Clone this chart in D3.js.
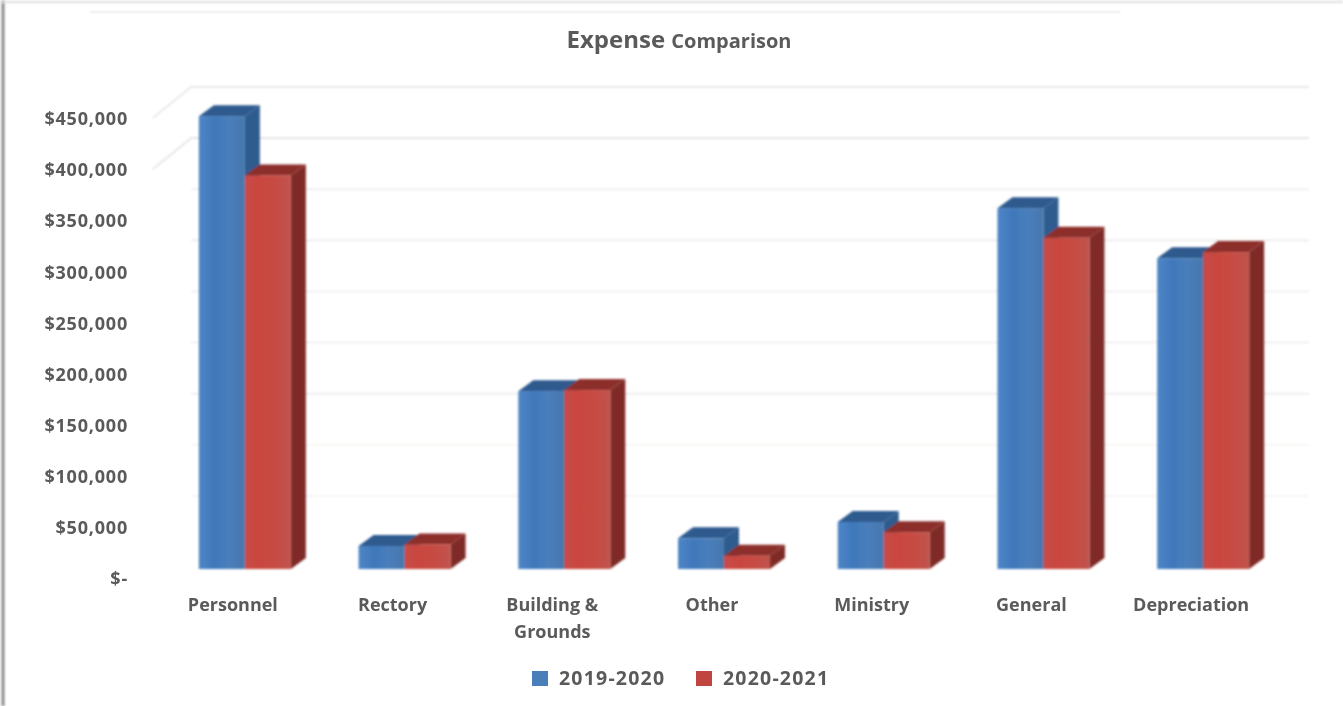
<!DOCTYPE html>
<html>
<head>
<meta charset="utf-8">
<title>Expense Comparison</title>
<script src="https://cdn.jsdelivr.net/npm/d3@7"></script>
<style>
  html, body { margin: 0; padding: 0; background: #fff; overflow: hidden; }
  text { font-family: "Open Sans", sans-serif; fill: #5a5a5a; font-weight: 700; }
</style>
</head>
<body>
<svg id="chart" width="1343" height="706"></svg>
<script>
const categories = ['Personnel', 'Rectory', 'Building &\nGrounds', 'Other', 'Ministry', 'General', 'Depreciation'];
const seriesNames = ['2019-2020', '2020-2021'];
const values2019 = [443000, 22500, 174000, 30000, 46000, 353000, 304000];
const values2020 = [385000, 24000, 175000, 13000, 36000, 324000, 310000];
const tickValues = [0, 50000, 100000, 150000, 200000, 250000, 300000, 350000, 400000, 450000];

const svg = d3.select('#chart');

const x = d3.scaleBand().domain(categories).range([153, 1271]).paddingInner(0.424).paddingOuter(0.212);
const xSeries = d3.scaleBand().domain(seriesNames).range([0, x.bandwidth()]);
const y = d3.scaleLinear().domain([0, 450000]).range([578, 118]);

// 3D offsets: bars sit a little behind the front plane, the wall is further back
const barShift = { x: 12, y: -9 };
const barDepth = { x: 15, y: -11 };
const wallDepth = { x: 38, y: -31 };

const colors = {
  '2019-2020': { front: 'url(#blueFront)', side: '#2f5c8f', top: '#2e5a8e', legend: '#4a7ebb' },
  '2020-2021': { front: 'url(#redFront)', side: '#7f2b28', top: '#8c2f2b', legend: '#c0453f' }
};

// Gradients and the soft blur of the scanned picture
const defs = svg.append('defs');
const addGradient = (id, stops) => {
  const g = defs.append('linearGradient').attr('id', id);
  stops.forEach((c, i) => g.append('stop').attr('offset', `${i * 100 / (stops.length - 1)}%`).attr('stop-color', c));
};
addGradient('blueFront', ['#4f86c6', '#3f78bb', '#4a7ebb', '#4577ad']);
addGradient('redFront', ['#c84a48', '#c9463e', '#c64c44', '#c0534c']);
defs.append('filter').attr('id', 'softText').append('feGaussianBlur').attr('stdDeviation', 0.7);
defs.append('filter').attr('id', 'softMark').append('feGaussianBlur').attr('stdDeviation', 0.8);

// Scan leftovers along the page edges
const edges = svg.append('g').attr('filter', 'url(#softMark)');
edges.append('line').attr('x1', 3).attr('x2', 3).attr('y1', 0).attr('y2', 706).attr('stroke', '#8a8a8a').attr('stroke-width', 3);
edges.append('line').attr('x1', 0).attr('x2', 1343).attr('y1', 2).attr('y2', 2).attr('stroke', '#dedede').attr('stroke-width', 2);
edges.append('line').attr('x1', 90).attr('x2', 1120).attr('y1', 12).attr('y2', 12).attr('stroke', '#ececec').attr('stroke-width', 2);

// Back wall gridlines, only the top two still show their diagonal return
const gridColor = v => v >= 400000 ? '#e2e2e2' : (v >= 150000 ? '#ececec' : '#f6f3f1');
const grid = svg.append('g').attr('filter', 'url(#softMark)').attr('fill', 'none').attr('stroke-width', 1.6);
tickValues.filter(v => v > 0).forEach(v => {
  const wallY = y(v) + wallDepth.y;
  const wallX = x.range()[0] + wallDepth.x;
  const points = [[wallX, wallY], [x.range()[1] + wallDepth.x, wallY]];
  if (v >= 400000) points.unshift([x.range()[0], y(v)]);
  grid.append('path').attr('d', d3.line()(points)).attr('stroke', gridColor(v));
});

// Bars
const bars = svg.append('g').attr('filter', 'url(#softMark)');
categories.forEach((cat, i) => {
  [values2019[i], values2020[i]].forEach((val, s) => {
    const name = seriesNames[s];
    const x0 = x(cat) + xSeries(name) + barShift.x;
    const x1 = x0 + xSeries.bandwidth();
    const yTop = y(val) + barShift.y;
    const yBase = y(0) + barShift.y;
    const g = bars.append('g');
    // side face
    g.append('path').attr('fill', colors[name].side).attr('d', d3.line()([
      [x1, yTop], [x1 + barDepth.x, yTop + barDepth.y],
      [x1 + barDepth.x, yBase + barDepth.y], [x1, yBase]
    ]) + 'Z');
    // top face
    g.append('path').attr('fill', colors[name].top).attr('d', d3.line()([
      [x0, yTop], [x0 + barDepth.x, yTop + barDepth.y],
      [x1 + barDepth.x, yTop + barDepth.y], [x1, yTop]
    ]) + 'Z');
    // front face
    g.append('rect').attr('x', x0).attr('y', yTop)
      .attr('width', x1 - x0).attr('height', yBase - yTop)
      .attr('fill', colors[name].front);
  });
});

// Value axis
const yAxis = d3.axisLeft(y)
  .tickValues(tickValues)
  .tickSize(0)
  .tickPadding(25)
  .tickFormat(v => v === 0 ? '$-' : '$' + d3.format(',')(v));
svg.append('g')
  .attr('transform', `translate(${x.range()[0]},1)`)
  .attr('filter', 'url(#softText)')
  .call(yAxis)
  .call(g => g.select('.domain').remove())
  .selectAll('text')
  .attr('font-size', 18)
  .attr('letter-spacing', 0.8)
  .style('font-family', '"Open Sans", sans-serif');

// Category axis, labels may wrap on two lines
const xAxis = d3.axisBottom(x).tickSize(0).tickPadding(20);
svg.append('g')
  .attr('transform', `translate(0,${y(0)})`)
  .attr('filter', 'url(#softText)')
  .call(xAxis)
  .call(g => g.select('.domain').remove())
  .selectAll('text')
  .attr('font-size', 18)
  .style('font-family', '"Open Sans", sans-serif')
  .each(function (d) {
    const label = d3.select(this);
    const yPos = label.attr('y');
    label.text(null);
    d.split('\n').forEach((part, i) => {
      label.append('tspan').attr('x', 0).attr('y', yPos)
        .attr('dy', `${0.71 + i * 1.5}em`).text(part);
    });
  });

// Title
const title = svg.append('text')
  .attr('x', 679).attr('y', 48)
  .attr('text-anchor', 'middle')
  .attr('filter', 'url(#softText)');
title.append('tspan').attr('font-size', 24).text('Expense ');
title.append('tspan').attr('font-size', 20).text('Comparison');

// Legend
const legendX = d3.scaleOrdinal().domain(seriesNames).range([532, 696]);
const legend = svg.append('g').attr('filter', 'url(#softText)');
seriesNames.forEach(name => {
  legend.append('rect')
    .attr('x', legendX(name)).attr('y', 671)
    .attr('width', 16).attr('height', 15)
    .attr('fill', colors[name].legend);
  legend.append('text')
    .attr('x', legendX(name) + 27).attr('y', 685)
    .attr('font-size', 19.5)
    .attr('letter-spacing', 1.2)
    .text(name);
});
</script>
</body>
</html>
